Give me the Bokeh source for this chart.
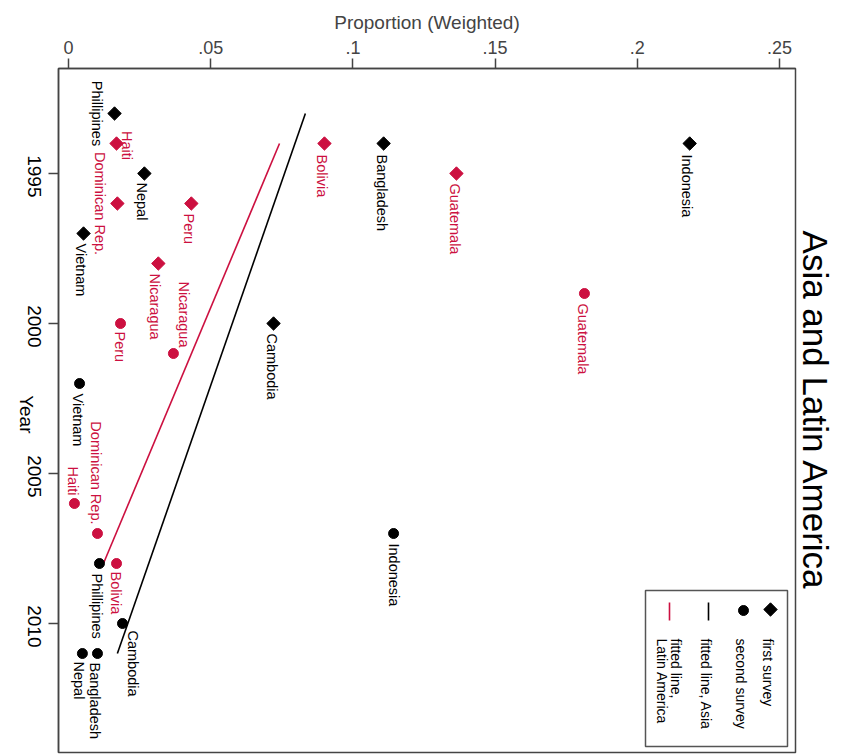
import numpy as np
from bokeh.plotting import figure
from bokeh.models import ColumnDataSource, Range1d, FixedTicker, LinearAxis, Title
from bokeh.core.properties import value
from bokeh.embed import file_html
from bokeh.resources import INLINE

# ---- data -------------------------------------------------------------
first_country = ["Phillipines", "Haiti", "Bolivia", "Bangladesh", "Indonesia", "Nepal",
                 "Guatemala", "Dominican Rep.", "Peru", "Vietnam", "Nicaragua", "Cambodia"]
first_region = ["Asia", "LatAm", "LatAm", "Asia", "Asia", "Asia",
                "LatAm", "LatAm", "LatAm", "Asia", "LatAm", "Asia"]
first_year = [1993, 1994, 1994, 1994, 1994, 1995, 1995, 1996, 1996, 1997, 1998, 2000]
first_prop = [0.0162, 0.0169, 0.0900, 0.1108, 0.2184, 0.0267,
              0.1364, 0.0172, 0.0432, 0.0053, 0.0316, 0.0721]

second_country = ["Guatemala", "Peru", "Nicaragua", "Vietnam", "Haiti", "Dominican Rep.",
                  "Indonesia", "Phillipines", "Bolivia", "Cambodia", "Bangladesh", "Nepal"]
second_region = ["LatAm", "LatAm", "LatAm", "Asia", "LatAm", "LatAm",
                 "Asia", "Asia", "LatAm", "Asia", "Asia", "Asia"]
second_year = [1999, 2000, 2001, 2002, 2006, 2007, 2007, 2008, 2008, 2010, 2011, 2011]
second_prop = [0.1814, 0.0183, 0.0369, 0.0039, 0.0021, 0.0102,
               0.1143, 0.0109, 0.0169, 0.0190, 0.0102, 0.0049]

# fitted lines (endpoints of the linear fits)
fit_asia_year = [1993, 2011]
fit_asia_prop = [0.0833, 0.0172]
fit_latam_year = [1994, 2008]
fit_latam_prop = [0.0742, 0.0123]

x_ticks = [0, 0.05, 0.10, 0.15, 0.20, 0.25]
x_tick_labels = ["0", ".05", ".1", ".15", ".2", ".25"]
y_ticks = [1995, 2000, 2005, 2010]

# ---- styling ------------------------------------------------------------
RED = "#cc1040"
BLACK = "#000000"
AXIS = "#444444"
FONT = "Liberation Sans"
region_color = {"Asia": BLACK, "LatAm": RED}

W, H = 843, 754
F_LEFT, F_RIGHT, F_TOP, F_BOTTOM = 58, 795, 68, 752
X0, X1 = -0.0035, 0.2556
Y_TOP, Y_BOT = 1991.5, 2014.3
PX_PER_YEAR = (F_BOTTOM - F_TOP) / (Y_BOT - Y_TOP)


def px2x(px):
    return X0 + (px - F_LEFT) / (F_RIGHT - F_LEFT) * (X1 - X0)


def py2y(py):
    return Y_TOP + (py - F_TOP) / PX_PER_YEAR


# marker label placement: (dx px, dy px, align)
first_label_pos = {
    "Phillipines": (-18, 0, "center"), "Haiti": (10, 2, "center"),
    "Bolivia": (-2, 11, "left"), "Bangladesh": (-2, 11, "left"),
    "Indonesia": (-3, 11, "left"), "Nepal": (-2, 9, "left"),
    "Guatemala": (-1, 10, "left"), "Dominican Rep.": (-17, 0, "center"),
    "Peru": (-2, 10, "left"), "Vietnam": (-3, 10, "left"),
    "Nicaragua": (-3, 10, "left"), "Cambodia": (-2, 10, "left"),
}
second_label_pos = {
    "Guatemala": (-1, 10, "left"), "Peru": (-1, 8, "left"),
    "Nicaragua": (11, -6, "right"), "Vietnam": (-2, 10, "left"),
    "Haiti": (-1, -8, "right"), "Dominican Rep.": (-1, -9, "right"),
    "Indonesia": (0, 10, "left"), "Phillipines": (-2, 10, "left"),
    "Bolivia": (-1, 8, "left"), "Cambodia": (10, 7, "left"),
    "Bangladesh": (-2, 9, "left"), "Nepal": (-3, 8, "left"),
}

p = figure(width=W, height=H, output_backend="svg", toolbar_location=None,
           x_range=Range1d(X0, X1), y_range=Range1d(Y_BOT, Y_TOP),
           x_axis_location="above",
           min_border_left=F_LEFT, min_border_right=W - F_RIGHT,
           min_border_top=F_TOP, min_border_bottom=H - F_BOTTOM)
p.background_fill_color = "white"
p.border_fill_color = "white"
p.grid.visible = False
p.outline_line_color = AXIS
p.outline_line_width = 1.5

# top axis: proportion
xa = p.xaxis[0]
xa.ticker = FixedTicker(ticks=x_ticks)
xa.major_label_overrides = {t: l for t, l in zip(x_ticks, x_tick_labels)}
xa.axis_label = "Proportion (Weighted)"
xa.axis_label_text_font = FONT
xa.axis_label_text_font_size = "19px"
xa.axis_label_text_font_style = "normal"
xa.axis_label_standoff = 5
xa.major_label_text_font = FONT
xa.major_label_text_font_size = "18px"
xa.major_label_standoff = 5
xa.major_tick_out = 10
xa.major_tick_in = 0
xa.minor_tick_out = 0
xa.minor_tick_in = 0
xa.axis_line_color = AXIS
xa.axis_line_width = 1.5
xa.major_tick_line_color = AXIS
xa.major_tick_line_width = 1.5

# left axis: year line and ticks only (its labels are drawn rotated further out)
ya = p.yaxis[0]
ya.ticker = FixedTicker(ticks=y_ticks)
ya.major_label_overrides = {t: "" for t in y_ticks}
ya.major_label_standoff = 0
ya.major_tick_out = 10
ya.major_tick_in = 0
ya.minor_tick_out = 0
ya.minor_tick_in = 0
ya.axis_line_color = AXIS
ya.axis_line_width = 1.5
ya.major_tick_line_color = AXIS
ya.major_tick_line_width = 1.5


def text_axis(tick_values, labels, standoff, font_size):
    """Label-only axis whose rotated labels read downward."""
    ax = LinearAxis(ticker=FixedTicker(ticks=tick_values),
                    major_label_overrides={t: l for t, l in zip(tick_values, labels)},
                    major_label_orientation=-np.pi / 2,
                    major_label_text_font=FONT,
                    major_label_text_font_size=font_size,
                    major_label_text_color=BLACK,
                    axis_line_color=None, major_tick_line_color=None,
                    minor_tick_line_color=None,
                    major_tick_out=0, major_tick_in=0,
                    minor_tick_out=0, minor_tick_in=0)
    ax.major_label_standoff = standoff
    p.add_layout(ax, "left")
    return ax


# rotated labels end at their tick, so each tick sits half a label further down
year_shift = 24 / PX_PER_YEAR
year_tick_pos = [y + year_shift for y in y_ticks]
year_axis = text_axis(year_tick_pos, [str(y) for y in y_ticks], 14, "19px")
title_axis = text_axis([py2y(433)], ["Year"], 0, "19px")

# pull the "Year" label inward so the left margin keeps its width
try:
    title_axis.major_label_standoff = -8
except ValueError:
    year_axis.major_label_standoff = 6

p.add_layout(Title(text="Asia and Latin America", align="center", standoff=0, offset=-6,
                   text_font=FONT, text_font_size="35px", text_font_style="normal",
                   text_color=BLACK), "right")

# fitted lines
p.line(fit_asia_prop, fit_asia_year, line_color=BLACK, line_width=1.6)
p.line(fit_latam_prop, fit_latam_year, line_color=RED, line_width=1.6)

# markers
first_colors = [region_color[r] for r in first_region]
second_colors = [region_color[r] for r in second_region]
src1 = ColumnDataSource(dict(x=first_prop, y=first_year, c=first_colors, name=first_country))
src2 = ColumnDataSource(dict(x=second_prop, y=second_year, c=second_colors, name=second_country))
p.scatter("x", "y", source=src1, marker="square", size=9.5, angle=np.pi / 4,
          fill_color="c", line_color="c")
p.scatter("x", "y", source=src2, marker="circle", size=10, fill_color="c", line_color="c")


# marker labels, rotated to read downward
def add_labels(countries, props, years, colors, pos):
    groups = {}
    for c, xv, yv, col in zip(countries, props, years, colors):
        dx, dy, al = pos[c]
        g = groups.setdefault(al, dict(x=[], y=[], t=[], c=[], dx=[], dy=[]))
        g["x"].append(xv); g["y"].append(yv); g["t"].append(c)
        g["c"].append(col); g["dx"].append(dx); g["dy"].append(dy)
    for al, g in groups.items():
        p.text("x", "y", text="t", source=ColumnDataSource(g), angle=-np.pi / 2,
               x_offset="dx", y_offset="dy", text_color="c",
               text_font=value(FONT), text_font_size="14.5px",
               text_align=al, text_baseline="middle")


add_labels(first_country, first_prop, first_year, first_colors, first_label_pos)
add_labels(second_country, second_prop, second_year, second_colors, second_label_pos)

# legend box with rotated entries
p.quad(left=[px2x(645)], right=[px2x(787)], top=[py2y(590)], bottom=[py2y(746)],
       fill_color="white", line_color="#555555", line_width=1.5)
p.scatter([px2x(770)], [py2y(609)], marker="square", size=9.5, angle=np.pi / 4,
          fill_color=BLACK, line_color=BLACK)
p.scatter([px2x(743)], [py2y(610)], marker="circle", size=10,
          fill_color=BLACK, line_color=BLACK)
p.line([px2x(708), px2x(708)], [py2y(602), py2y(620)], line_color=BLACK, line_width=1.6)
p.line([px2x(669), px2x(669)], [py2y(602), py2y(620)], line_color=RED, line_width=1.6)
leg_x = [767, 740, 705, 675, 661]
leg_t = ["first survey", "second survey", "fitted line, Asia", "fitted line,", "Latin America"]
p.text([px2x(v) for v in leg_x], [py2y(638)] * len(leg_x), text=leg_t, angle=-np.pi / 2,
       text_color=BLACK, text_font=value(FONT), text_font_size="14px",
       text_align="left", text_baseline="middle")

open("out.html", "w").write(file_html(p, INLINE))
